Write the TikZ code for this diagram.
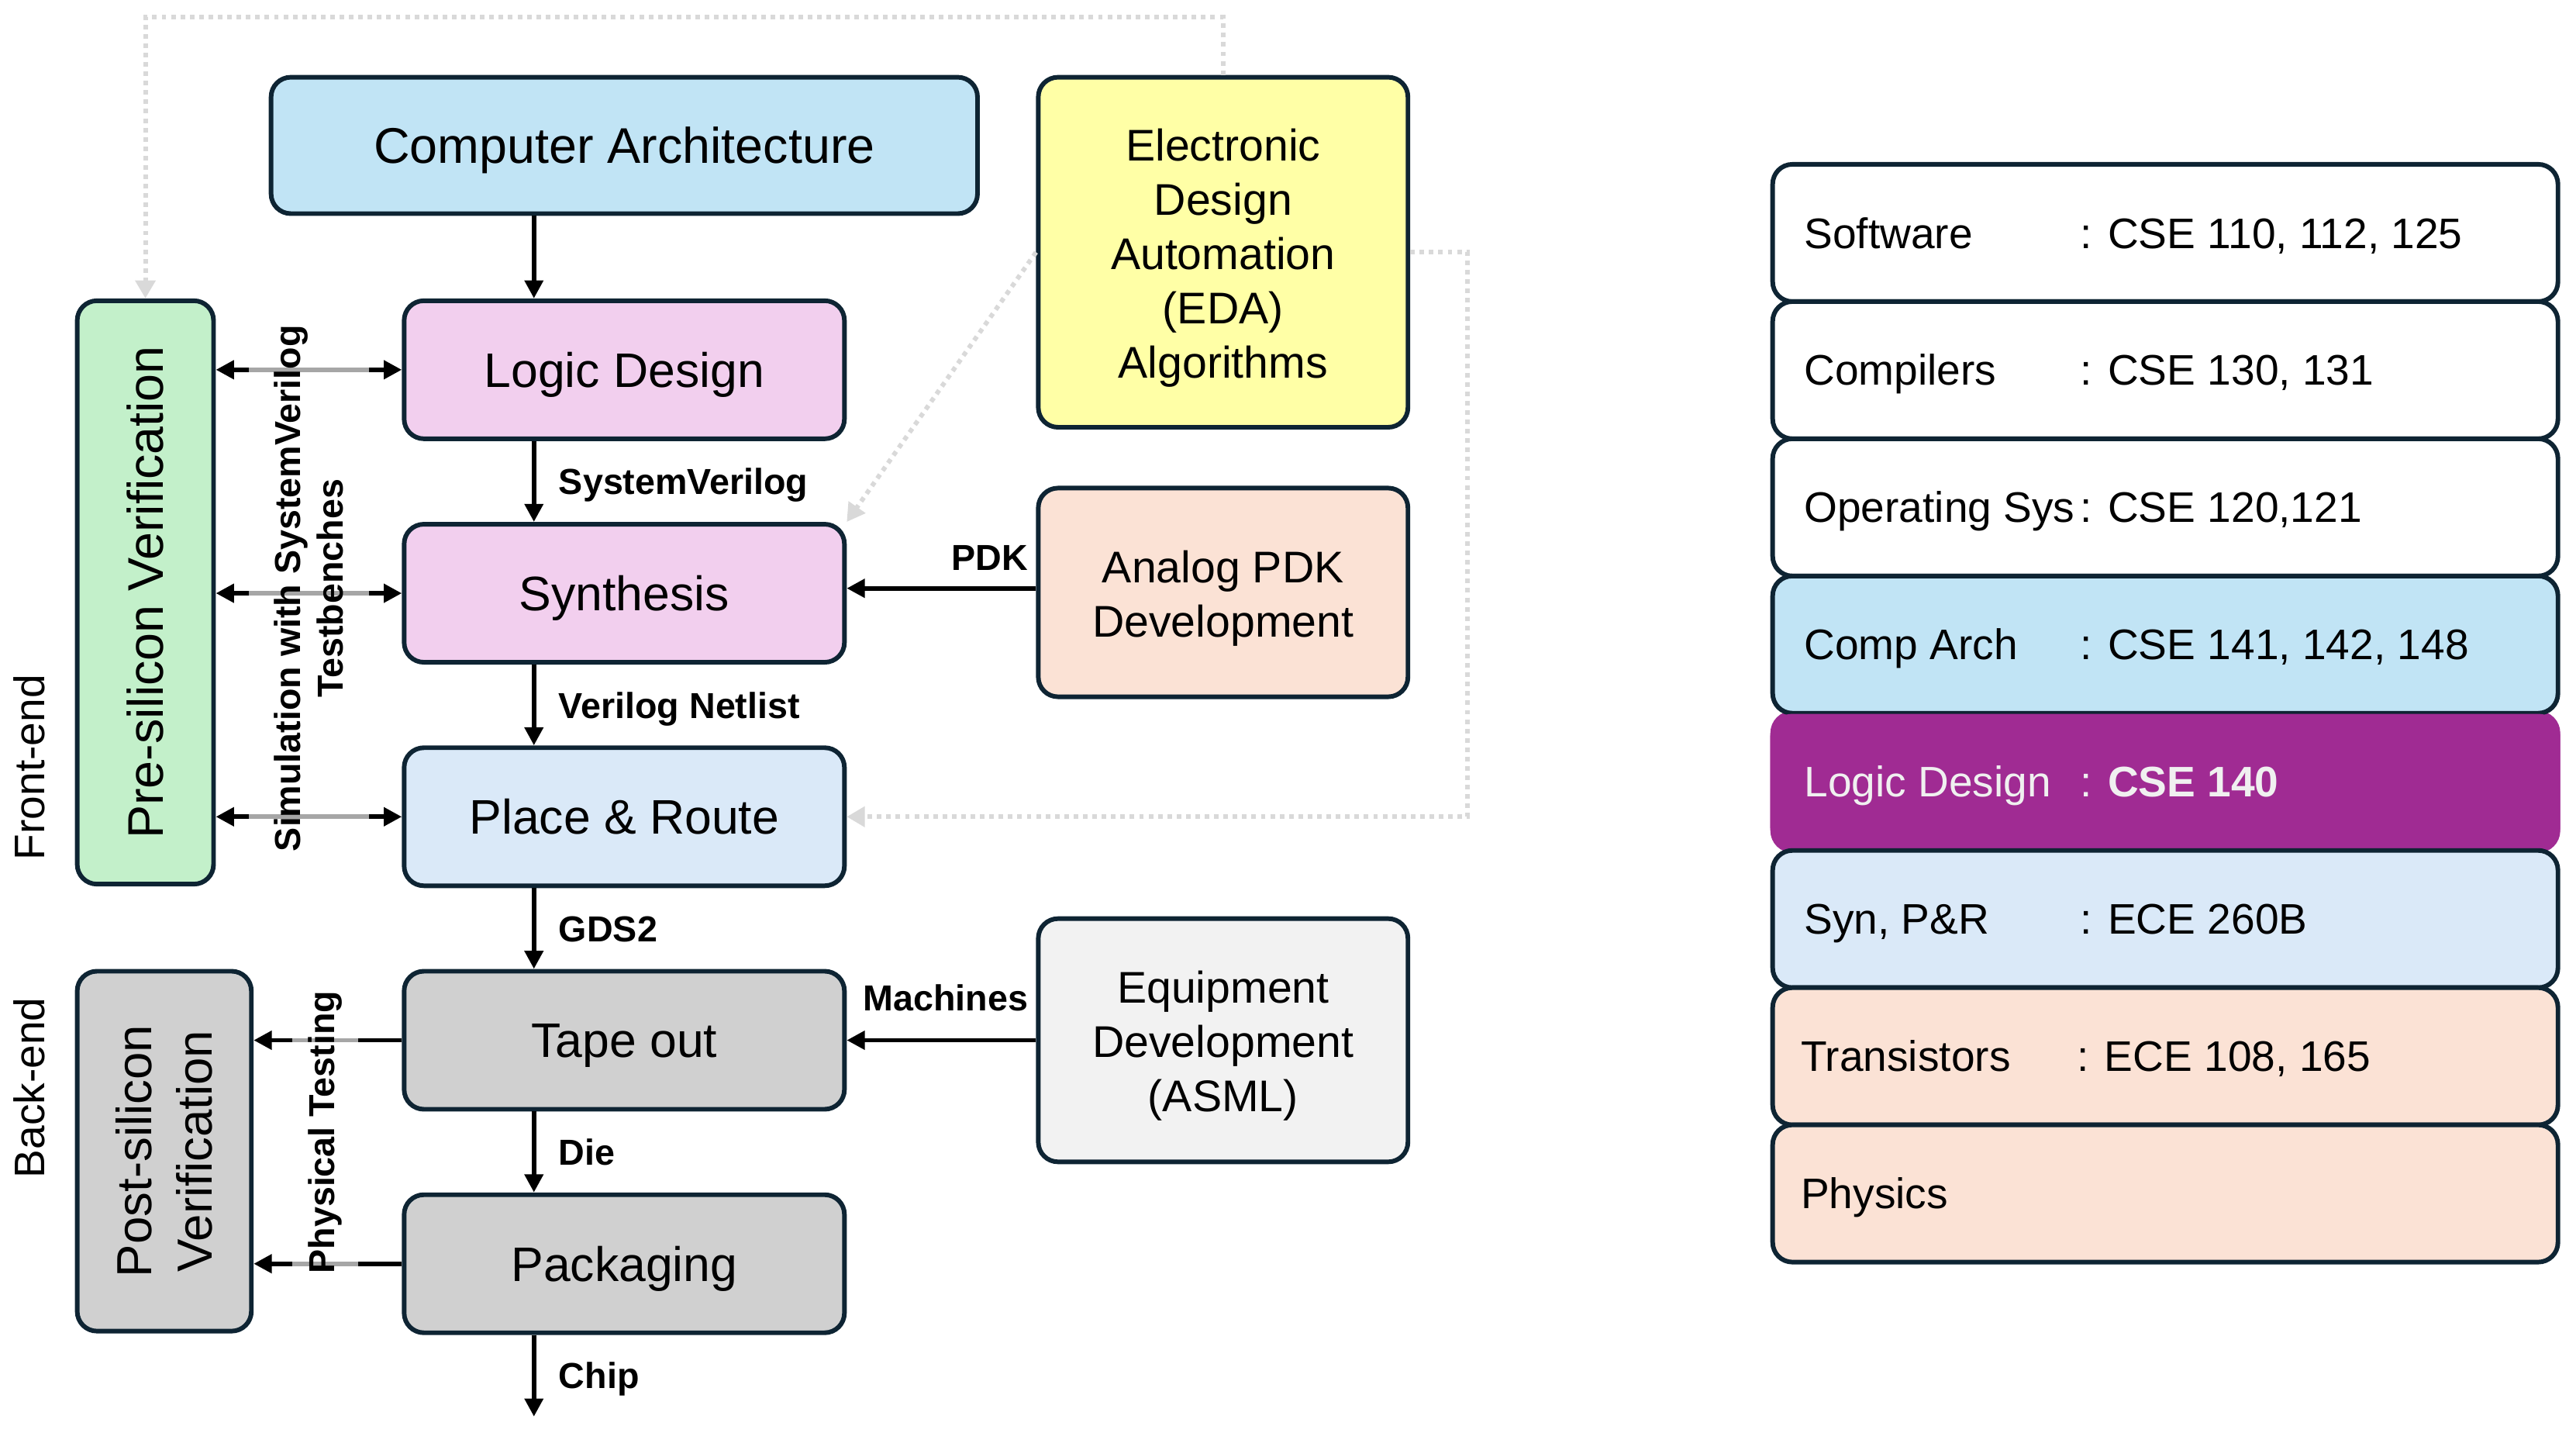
\documentclass[tikz,border=0pt]{standalone}
\usepackage{fontspec}
\setmainfont{Liberation Sans}
\usetikzlibrary{arrows.meta}
\definecolor{bord}{HTML}{0E2433}
\definecolor{cablue}{HTML}{C1E4F5}
\definecolor{pinkc}{HTML}{F2CFEE}
\definecolor{prblue}{HTML}{DAE9F8}
\definecolor{grayc}{HTML}{D0D0D0}
\definecolor{greenc}{HTML}{C3F0CA}
\definecolor{yellowc}{HTML}{FFFFA6}
\definecolor{peachc}{HTML}{FBE2D5}
\definecolor{lightg}{HTML}{F2F2F2}
\definecolor{purplec}{HTML}{A02B93}
\definecolor{dotc}{HTML}{D9D9D9}
\definecolor{whitetxt}{HTML}{F0F0F0}
\begin{document}
\begin{tikzpicture}[x=1pt,y=-1pt,
  box/.style={draw=bord, line width=2.8pt, rounded corners=12pt, align=center, inner sep=0pt},
  mainf/.style={font=\fontsize{29.5}{35}\selectfont, text height=21.1pt, text depth=0pt},
  sidef/.style={font=\fontsize{27}{33}\selectfont, align=center, inner sep=0pt, yshift=-3.5pt},
  arr/.style={line width=2.8pt, -{Triangle[length=11pt,width=11pt]}},
  arrtwo/.style={line width=2.8pt, {Triangle[length=11pt,width=11pt]}-{Triangle[length=11pt,width=11pt]}},
  dotarr/.style={draw=dotc, line width=2.8pt, dash pattern=on 2.8pt off 2.9pt, -{Triangle[length=11pt,width=12pt]}},
  lab/.style={font=\fontsize{22}{26}\selectfont\bfseries, inner sep=0pt},
  rowbox/.style={draw=bord, line width=2.8pt, rounded corners=12pt, minimum width=478, minimum height=83.5, inner sep=0pt},
  rowf/.style={font=\fontsize{26}{31}\selectfont, inner sep=0pt, anchor=base west}
]
\useasboundingbox (0,0) rectangle (1568,872);

% ---------- main column ----------
\node[box, mainf, fill=cablue, minimum width=430, minimum height=83, text height=21.8pt] (ca) at (380,88.5) {\fontsize{30.5}{35}\selectfont Computer Architecture};
\node[box, mainf, fill=pinkc, minimum width=268, minimum height=84] (ld) at (380,225) {Logic Design};
\node[box, mainf, fill=pinkc, minimum width=268, minimum height=84] (syn) at (380,361) {Synthesis};
\node[box, mainf, fill=prblue, minimum width=268, minimum height=84] (pr) at (380,497) {Place \& Route};
\node[box, mainf, fill=grayc, minimum width=268, minimum height=84] (tape) at (380,633) {Tape out};
\node[box, mainf, fill=grayc, minimum width=268, minimum height=84] (pack) at (380,769) {Packaging};

% ---------- side boxes ----------
\node[box, fill=yellowc, minimum width=225, minimum height=213] (eda) at (744.5,153.5) {};
\node[sidef] (edatxt) at (eda.center) {Electronic\\Design\\Automation\\(EDA)\\Algorithms};
\node[box, fill=peachc, minimum width=225, minimum height=127] (pdk) at (744.5,360.5) {};
\node[sidef] (pdktxt) at (pdk.center) {Analog PDK\\Development};
\node[box, fill=lightg, minimum width=225, minimum height=148] (eq) at (744.5,633) {};
\node[sidef] (eqtxt) at (eq.center) {Equipment\\Development\\(ASML)};

% ---------- verification boxes ----------
\node[box, fill=greenc, minimum width=83, minimum height=355] (pre) at (88.5,360.5) {};
\node[rotate=90, font=\fontsize{30.5}{36}\selectfont, inner sep=0pt] (pretxt) at (pre.center) {Pre-silicon Verification};
\node[box, fill=grayc, minimum width=106, minimum height=219] (post) at (100,700.5) {};
\node[rotate=90, align=center, font=\fontsize{30}{37}\selectfont, inner sep=0pt] (posttxt) at (post.center) {Post-silicon\\Verification};

\node[rotate=90, font=\fontsize{26}{31}\selectfont, inner sep=0pt] (fe) at (18,467) {Front-end};
\node[rotate=90, font=\fontsize{26}{31}\selectfont, inner sep=0pt] (be) at (18,662) {Back-end};

% ---------- vertical flow ----------
\coordinate (vx) at (325,0);
\coordinate (chipend) at (325,862);
\draw[arr] (ca.south -| vx) -- (ld.north -| vx);
\draw[arr] (ld.south -| vx) -- (syn.north -| vx);
\draw[arr] (syn.south -| vx) -- (pr.north -| vx);
\draw[arr] (pr.south -| vx) -- (tape.north -| vx);
\draw[arr] (tape.south -| vx) -- (pack.north -| vx);
\draw[arr] (pack.south -| vx) -- (chipend);

\node[lab, anchor=base west] (l1) at (340,301) {SystemVerilog};
\node[lab, anchor=base west] (l2) at (340,437) {Verilog Netlist};
\node[lab, anchor=base west] (l3) at (340,573) {GDS2};
\node[lab, anchor=base west] (l4) at (340,709) {Die};
\node[lab, anchor=base west] (l5) at (340,845) {Chip};

% ---------- side inputs ----------
\draw[arr] (pdk.west |- 0,358) -- (syn.east |- 0,358);
\node[lab, anchor=base east] (lpdk) at (626,347) {PDK};
\draw[arr] (eq.west) -- (tape.east);
\node[lab, anchor=base east] (lmach) at (626,615) {Machines};

% ---------- verification arrows ----------
\draw[arrtwo] (pre.east |- ld.west) -- (ld.west);
\draw[arrtwo] (pre.east |- syn.west) -- (syn.west);
\draw[arrtwo] (pre.east |- pr.west) -- (pr.west);
\node[lab, rotate=90, align=center, fill=white, fill opacity=0.65, text opacity=1, minimum width=330, minimum height=73] (sim) at (188,358) {Simulation with SystemVerilog\\Testbenches};

\draw[arr] (tape.west) -- (post.east |- tape.west);
\draw[arr] (pack.west) -- (post.east |- pack.west);
\node[lab, rotate=90, fill=white, fill opacity=0.65, text opacity=1, minimum width=176, minimum height=40] (phys) at (198,689) {Physical Testing};

% ---------- dotted EDA arrows ----------
\draw[dotarr] (eda.north) -- ++(0,-35) -| (pre.north);
\draw[dotarr] (eda.west) -- (syn.north east);
\draw[dotarr] (eda.east) -- ++(35,0) |- (pr.east);

% ---------- course table ----------
\node[rowbox, draw=purplec, fill=purplec] (r5) at (1318,475.75) {};
\node[rowbox, fill=white] (r1) at (1318,141.75) {};
\node[rowbox, fill=white] (r2) at (1318,225.25) {};
\node[rowbox, fill=white] (r3) at (1318,308.75) {};
\node[rowbox, fill=cablue] (r4) at (1318,392.25) {};
\node[rowbox, draw=purplec, fill=purplec, minimum height=80] (r5b) at (1318,475.75) {};
\node[rowbox, fill=prblue] (r6) at (1318,559.25) {};
\node[rowbox, fill=peachc] (r7) at (1318,642.75) {};
\node[rowbox, fill=peachc] (r8) at (1318,726.25) {};

\node[rowf] (t1a) at (1098,151) {Software};
\node[rowf] (t1b) at (1266,151) {: CSE 110, 112, 125};
\node[rowf] (t2a) at (1098,234.5) {Compilers};
\node[rowf] (t2b) at (1266,234.5) {: CSE 130, 131};
\node[rowf] (t3a) at (1098,318) {Operating Sys};
\node[rowf] (t3b) at (1266,318) {: CSE 120,121};
\node[rowf] (t4a) at (1098,401.5) {Comp Arch};
\node[rowf] (t4b) at (1266,401.5) {: CSE 141, 142, 148};
\node[rowf, text=whitetxt] (t5a) at (1098,485) {Logic Design};
\node[rowf, text=whitetxt] (t5b) at (1266,485) {: \textbf{CSE 140}};
\node[rowf] (t6a) at (1098,568.5) {Syn, P\&R};
\node[rowf] (t6b) at (1266,568.5) {: ECE 260B};
\node[rowf] (t7a) at (1096,652) {Transistors};
\node[rowf] (t7b) at (1264,652) {: ECE 108, 165};
\node[rowf] (t8a) at (1096,735.5) {Physics};
\end{tikzpicture}
\end{document}
